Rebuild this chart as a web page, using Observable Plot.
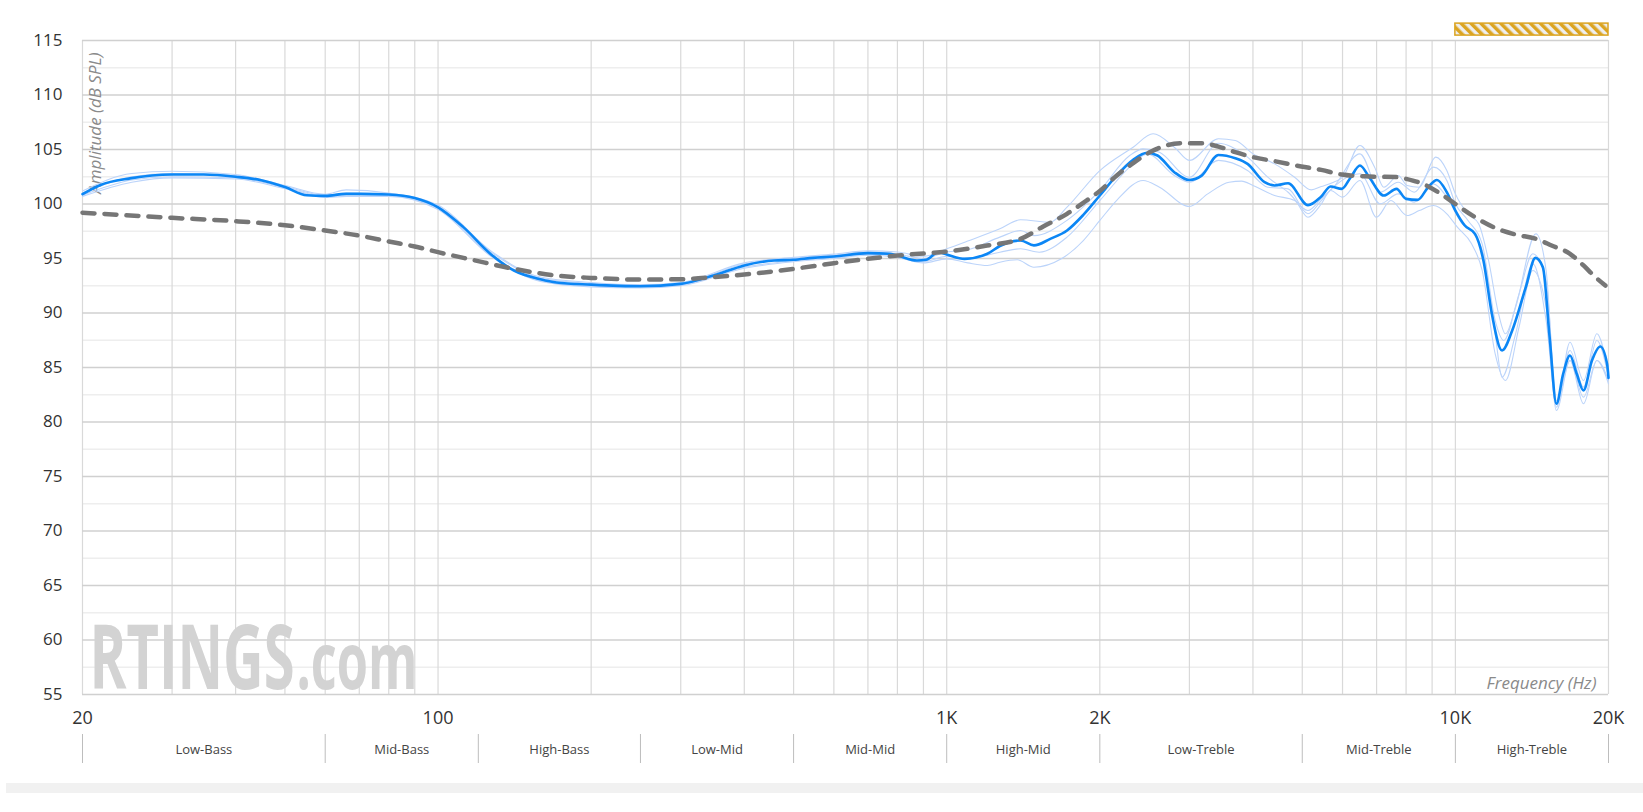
<!DOCTYPE html>
<html><head><meta charset="utf-8">
<script src="https://cdn.jsdelivr.net/npm/d3@7"></script>
<script src="https://cdn.jsdelivr.net/npm/@observablehq/plot@0.6"></script>
<style>
body{margin:0;background:#fff;font-family:"Open Sans",sans-serif;}
svg{display:block;}
#bar{height:10px;background:#f1f1f1;margin:8px 0 0 6px;}
</style></head><body>
<div id="chart"></div>
<div id="bands"></div>
<div id="bar"></div>
<script>
// ---------- data ----------
const xDomain = [20, 20000];
const yDomain = [55, 115];
const yTicks = [55, 60, 65, 70, 75, 80, 85, 90, 95, 100, 105, 110, 115];
const yMinorGrid = [57.5, 62.5, 67.5, 72.5, 77.5, 82.5, 87.5, 92.5, 97.5, 102.5, 107.5, 112.5];
const xTickValues = [20, 100, 1000, 2000, 10000, 20000];
const xTickLabels = ["20", "100", "1K", "2K", "10K", "20K"];
const xGrid = [20,30,40,50,60,70,80,90,100,200,300,400,500,600,700,800,900,1000,2000,3000,4000,5000,6000,7000,8000,9000,10000,20000];
const bandEdges = [20, 60, 120, 250, 500, 1000, 2000, 5000, 10000, 20000];
const bandNames = ["Low-Bass","Mid-Bass","High-Bass","Low-Mid","Mid-Mid","High-Mid","Low-Treble","Mid-Treble","High-Treble"];

// main (average) response
const mainFreq = [20,21.7,24.8,30,34.6,40,44.7,50,55.2,60,66,70,80,90,100,112,127,141,159,171,200,250,300,348,400,458,500,546,600,700,772,800,874,911,962,1000,1084,1202,1272,1397,1484,1598,1724,1856,2000,2157,2325,2478,2596,2802,3000,3172,3421,3693,3903,4216,4412,4690,5131,5450,5684,5980,6228,6492,6770,7232,7660,8000,8432,8840,9200,9620,10000,10436,10930,11356,11796,12352,12934,13756,14368,14860,15320,15800,16290,16800,17320,17860,18556,19272,19870,20000];
const mainDb = [100.9,101.75,102.35,102.7,102.7,102.5,102.2,101.55,100.8,100.75,100.93,100.93,100.87,100.55,99.7,97.9,95.4,93.9,93.1,92.8,92.6,92.45,92.67,93.44,94.36,94.82,94.88,95.06,95.18,95.49,95.43,95.27,94.82,94.88,95.58,95.37,94.97,95.43,96.15,96.65,96.2,96.8,97.57,99.0,100.78,102.6,104.05,104.7,104.45,102.92,102.2,102.6,104.5,104.2,103.68,102.0,101.7,101.9,99.9,100.69,101.6,101.39,102.46,103.53,102.46,100.78,101.39,100.47,100.38,101.54,102.2,101.08,99.4,98.03,97.26,94.8,89.92,86.56,88.4,92.37,95.06,94.2,87.78,81.67,84.42,86.1,84.42,82.9,85.64,86.93,85.34,84.05];

// target curve (dashed)
const targetFreq = [20,30,40,50,60,70,80,90,100,117,141,171,200,250,300,348,400,500,600,700,800,1000,1200,1397,1548,1724,1883,2000,2157,2325,2512,2702,2919,3172,3421,3693,4000,4412,4976,5450,5980,6770,7720,8000,8630,9360,10000,10930,11975,13134,14400,15460,16800,17860,18700,19720];
const targetDb = [99.2,98.73,98.42,98.05,97.57,97.1,96.56,96.1,95.58,94.87,94.05,93.44,93.22,93.07,93.1,93.29,93.53,94.05,94.57,94.97,95.27,95.64,96.19,96.8,97.94,99.1,100.32,101.2,102.6,103.75,104.76,105.37,105.58,105.58,105.27,104.76,104.3,103.93,103.44,103.13,102.7,102.52,102.46,102.31,101.85,100.93,100.0,98.79,97.81,97.2,96.8,96.19,95.43,94.36,93.44,92.52];

// individual measurements (thin light-blue)
const measAFreq = [20,25,30,40,50,60,66,80,100,127,159,200,250,300,400,500,600,700,800,900,1000,1100,1272,1397,1598,1724,2000,2325,2545,2802,3000,3421,3693,4000,4412,4830,5210,5450,5760,6005,6492,6938,7232,7720,8036,8492,9150,9620,10000,10588,11110,11620,12160,12545,13134,14400,15080,15800,16800,17860,18974,20000];
const measADb = [101.2,102.8,103.0,102.7,101.7,100.9,101.3,101.0,99.9,95.7,93.3,92.8,92.6,92.8,94.6,95.1,95.4,95.7,95.6,95.2,95.9,96.6,97.72,98.55,98.33,99.71,103.07,105.21,106.44,105.21,104.0,105.98,105.83,104.6,103.68,102.46,101.3,101.6,102.0,102.46,105.37,103.38,101.54,102.61,101.7,101.54,104.3,103.07,100.93,99.1,98.18,94.82,89.92,88.09,90.53,97.26,93.9,81.36,87.32,83.81,88.09,84.42];
const measBFreq = [20,25,30,40,50,60,66,80,100,127,159,200,250,300,400,500,600,700,800,900,1000,1100,1202,1272,1376,1484,1680,1856,2000,2157,2433,2620,3000,3260,3590,3800,4000,4412,4830,5131,5450,5684,6005,6492,6995,7470,8036,8492,9054,9620,10090,10760,11290,11975,12545,13340,14200,15080,15800,16800,17860,18974,20000];
const measBDb = [100.7,102.0,102.4,102.3,101.4,100.6,100.7,100.7,99.5,95.2,92.9,92.4,92.3,92.5,94.1,94.7,95.0,95.3,95.1,94.6,94.97,94.6,94.36,94.66,94.88,94.2,94.97,96.65,98.49,100.32,102.16,101.54,99.77,100.93,102.0,102.1,101.7,100.78,100.32,98.79,100.0,101.24,100.63,102.16,98.79,100.32,98.94,99.4,99.86,99.1,97.87,96.35,93.9,86.25,83.81,88.7,93.9,90.53,81.06,85.64,81.67,85.64,83.5];
const measCFreq = [20,25,30,40,50,60,66,80,100,127,159,200,250,300,400,500,600,700,800,900,1000,1100,1272,1397,1484,1724,2000,2290,2433,2620,3000,3421,3903,4278,4690,5131,5450,5760,6492,7115,7720,8300,9054,9620,10000,10588,11290,11975,12450,13340,14200,15080,15800,16800,17860,18974,20000];
const measCDb = [101.0,102.5,102.8,102.6,101.6,100.8,101.0,100.9,99.8,95.6,93.2,92.7,92.5,92.7,94.5,95.0,95.3,95.6,95.4,95.0,95.6,95.8,96.96,97.57,97.1,98.5,101.24,104.45,105.06,104.75,102.46,105.58,104.3,102.46,101.08,99.4,100.5,101.54,104.6,101.08,102.0,101.08,103.38,102.16,100.02,98.49,96.35,89.31,87.48,91.76,95.43,92.98,81.97,86.56,83.2,87.48,84.11];
const measDFreq = [20,25,30,40,50,60,66,80,100,127,159,200,250,300,400,500,600,700,800,900,1000,1100,1272,1397,1520,1724,2000,2325,2478,2802,3000,3421,3903,4278,4690,5131,5450,5760,6492,7115,7720,8300,9054,9620,10260,10930,11356,11975,12352,13134,14200,15080,15800,16800,17860,18974,20000];
const measDDb = [100.8,102.2,102.5,102.4,101.5,100.7,100.85,100.8,99.6,95.3,93.0,92.5,92.4,92.6,94.2,94.8,95.1,95.4,95.2,94.7,95.2,95.0,95.58,95.89,95.58,96.96,100.32,103.68,104.6,102.61,102.0,104.0,103.07,101.54,101.39,99.1,100.32,101.54,102.77,100.02,100.93,100.17,101.85,100.63,98.33,97.11,95.43,88.09,84.11,88.09,94.51,89.31,81.67,85.64,82.28,85.64,83.81];

const hatchRange = [10000, 20000];

// ---------- build tables ----------
const rows = (fs, vs, id) => fs.map((f, i) => ({f, v: vs[i], id}));
const mainRows = rows(mainFreq, mainDb, "main");
const targetRows = rows(targetFreq, targetDb, "target");
const measRows = [].concat(
  rows(measAFreq, measADb, "A"), rows(measBFreq, measBDb, "B"),
  rows(measCFreq, measCDb, "C"), rows(measDFreq, measDDb, "D"));

const W = 1643;
const chart = Plot.plot({
  width: W, height: 730,
  marginLeft: 82, marginRight: 35, marginTop: 40, marginBottom: 36,
  style: {fontFamily: "'Open Sans', sans-serif", background: "white", overflow: "visible"},
  x: {type: "log", domain: xDomain},
  y: {domain: yDomain},
  marks: [
    Plot.ruleY(yMinorGrid, {stroke: "#eeeeee", strokeWidth: 1.5}),
    Plot.ruleX(xGrid, {stroke: "#d9d9d9", strokeWidth: 1.2}),
    Plot.ruleY(yTicks, {stroke: "#d0d0d0", strokeWidth: 1.5}),
    Plot.text(["RTINGS"], {frameAnchor: "bottom-left", text: d => d, textAnchor: "start", lineAnchor: "bottom",
      dx: 7, dy: -6, fontSize: 90, fontWeight: "bold", fill: "#d3d3d3"}),
    Plot.text([".com"], {frameAnchor: "bottom-left", text: d => d, textAnchor: "start", lineAnchor: "bottom",
      dx: 214, dy: -6, fontSize: 78, fontWeight: "bold", fill: "#d3d3d3"}),
    Plot.text(["Amplitude (dB SPL)"], {frameAnchor: "top-left", text: d => d, rotate: -90, textAnchor: "end",
      lineAnchor: "middle", dx: 13, dy: 12, fontSize: 17, fontStyle: "italic", fill: "#8a8a8a"}),
    Plot.text(["Frequency (Hz)"], {frameAnchor: "bottom-right", text: d => d, textAnchor: "end",
      lineAnchor: "bottom", dx: -12, dy: -6, fontSize: 17, fontStyle: "italic", fill: "#8a8a8a"}),
    Plot.line(measRows, {x: "f", y: "v", z: "id", stroke: "#bcd4fa", strokeWidth: 1.1, curve: "monotone-x"}),
    Plot.line(mainRows, {x: "f", y: "v", stroke: "#0b86f5", strokeWidth: 2.6, curve: "monotone-x"}),
    Plot.line(targetRows, {x: "f", y: "v", stroke: "#767676", strokeWidth: 4.5, strokeDasharray: "12,10", curve: "monotone-x"}),
    Plot.rect([hatchRange], {x1: d => d[0], x2: d => d[1], y1: yDomain[1] + 0.45, y2: yDomain[1] + 1.55,
      fill: "url(#hatch)", stroke: "#dba421", strokeWidth: 1.5}),
    Plot.axisY({ticks: yTicks, tickSize: 0, tickPadding: 20, fontSize: 17, fill: "#333", label: null}),
    Plot.axisX({ticks: xTickValues, tickFormat: d => xTickLabels[xTickValues.indexOf(d)], tickSize: 0,
      tickPadding: 17, fontSize: 18, fill: "#333", label: null})
  ]
});
d3.select(chart).insert("defs", ":first-child").html(
  '<pattern id="hatch" patternUnits="userSpaceOnUse" width="7" height="7" patternTransform="rotate(-45)">' +
  '<rect width="7" height="7" fill="#eeeeee"/><rect width="3.5" height="7" fill="#dba421"/></pattern>');
function squeeze(label, len) {
  d3.select(chart).selectAll("text").filter(function () {
    return this.textContent === label;
  }).attr("textLength", len).attr("lengthAdjust", "spacingAndGlyphs");
}
squeeze("RTINGS", 205);
squeeze(".com", 121);
document.getElementById("chart").appendChild(chart);

const bands = Plot.plot({
  width: W, height: 45,
  marginLeft: 82, marginRight: 35, marginTop: 0, marginBottom: 0,
  style: {fontFamily: "'Open Sans', sans-serif", background: "white", overflow: "visible"},
  x: {type: "log", domain: xDomain, axis: null},
  y: {axis: null},
  marks: [
    Plot.ruleX(bandEdges, {stroke: "#bdbdbd", strokeWidth: 1, insetTop: 4, insetBottom: 12}),
    Plot.text(bandNames, {x: (d, i) => Math.sqrt(bandEdges[i] * bandEdges[i + 1]), text: d => d,
      frameAnchor: "middle", dy: -3.5, fontSize: 13, fill: "#444"})
  ]
});
document.getElementById("bands").appendChild(bands);
</script>
</body></html>
